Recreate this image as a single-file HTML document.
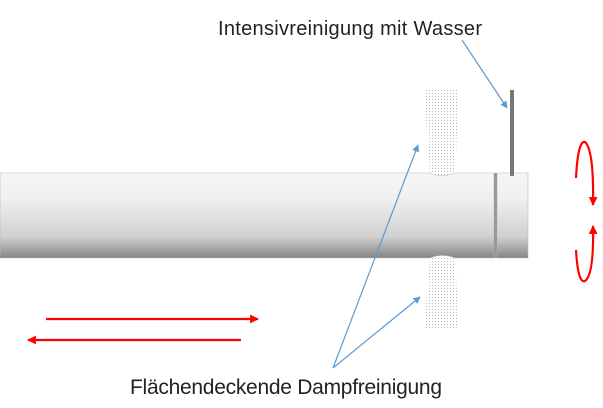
<!DOCTYPE html><html><head><style>body{margin:0;background:#fff}svg{display:block}</style></head><body>
<svg width="603" height="408" viewBox="0 0 603 408" xmlns="http://www.w3.org/2000/svg">
<defs>
<linearGradient id="g" x1="0" y1="0" x2="0" y2="1">
<stop offset="0" stop-color="#f6f6f6"/><stop offset="0.3" stop-color="#f0f0f0"/><stop offset="0.75" stop-color="#d0d0d0"/><stop offset="1" stop-color="#858585"/></linearGradient>
<pattern id="sp" width="3" height="3" patternUnits="userSpaceOnUse"><rect width="1" height="1" fill="#999"/></pattern>
<marker id="b" viewBox="0 0 10 10" refX="9" refY="5" markerWidth="6" markerHeight="6" orient="auto"><path d="M0,0L10,5L0,10z" fill="#5b9bd5"/></marker>
<marker id="r" viewBox="0 0 10 10" refX="9" refY="5" markerWidth="4" markerHeight="4" orient="auto"><path d="M0,0L10,5L0,10z" fill="#f00"/></marker>
</defs>
<polygon points="424,90 459,90 455,176 430,176" fill="url(#sp)" opacity="0.7"/>
<polygon points="430,256 455,256 459,330 424,330" fill="url(#sp)" opacity="0.7"/>
<path d="M0,173 L430,173 Q442,178 455,173 L494,173 L494,258 L455,258 Q442,253 430,258 L0,258Z" fill="url(#g)" stroke="#bbb" stroke-width="0.6"/>
<path d="M497,173 L528,173 L528,258 L497,258Z" fill="url(#g)" stroke="#bbb" stroke-width="0.6"/>
<rect x="494" y="173" width="3" height="85" fill="#999"/>
<rect x="510" y="90" width="4" height="86" fill="#777"/>
<text x="350" y="35" font-family="Liberation Sans,sans-serif" font-size="20" text-anchor="middle" fill="#222" textLength="264">Intensivreinigung mit Wasser</text>
<text x="286" y="394" font-family="Liberation Sans,sans-serif" font-size="21" text-anchor="middle" fill="#222" textLength="312">Flächendeckende Dampfreinigung</text>
<g stroke="#5b9bd5" stroke-width="1.2" fill="none">
<line x1="462" y1="40" x2="507" y2="108" marker-end="url(#b)"/>
<line x1="333" y1="368" x2="418" y2="145" marker-end="url(#b)"/>
<line x1="333" y1="368" x2="420" y2="297" marker-end="url(#b)"/>
</g>
<g stroke="#f00" stroke-width="2.2" fill="none">
<line x1="46" y1="319" x2="258" y2="319" marker-end="url(#r)"/>
<line x1="241" y1="340" x2="28" y2="340" marker-end="url(#r)"/>
<path d="M576,178 Q578,140 585,142 Q594,150 593,205" marker-end="url(#r)"/>
<path d="M576,250 Q578,284 585,281 Q594,275 593,226" marker-end="url(#r)"/>
</g>
</svg></body></html>
